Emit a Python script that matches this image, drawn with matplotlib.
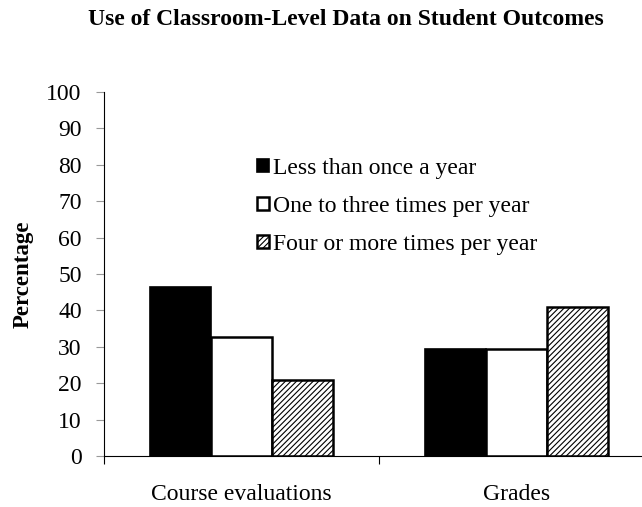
import matplotlib.pyplot as plt
import numpy as np

plt.rcParams['font.family'] = ['Liberation Serif', 'DejaVu Serif']
plt.rcParams['hatch.color'] = '#555555'
plt.rcParams['hatch.linewidth'] = 0.8

categories = ['Course evaluations', 'Grades']
series_names = ['Less than once a year', 'One to three times per year', 'Four or more times per year']
less_than_once = [46.5, 29.5]
one_to_three = [32.7, 29.4]
four_or_more = [20.9, 40.9]
y_ticks = list(range(0, 101, 10))

fig = plt.figure(figsize=(6.42, 5.07), dpi=100)
# right half of the axes runs off the figure, like the original
ax = fig.add_axes([0.1620, 0.1006, 0.857, 0.718])

x = np.arange(len(categories)) + 0.5
w = 0.222
ax.bar(x - w, less_than_once, w, color='black', edgecolor='black', linewidth=1.2, label=series_names[0])
ax.bar(x, one_to_three, w, color='white', edgecolor='black', linewidth=1.8, label=series_names[1])
ax.bar(x + w, four_or_more, w, color='white', edgecolor='black', linewidth=1.8, hatch='//////', label=series_names[2])

ax.set_xlim(0, 2)
ax.set_ylim(0, 100)
ax.set_yticks(y_ticks)
ax.tick_params(axis='y', labelsize=17, length=6, direction='out', color='#999999', pad=10)
ax.set_xticks([0, 1])
ax.set_xticklabels(['', ''])
ax.set_xticks(x, minor=True)
ax.set_xticklabels(categories, minor=True, fontsize=17)
ax.tick_params(axis='x', which='major', length=6, direction='out')
ax.tick_params(axis='x', which='minor', length=0, pad=20)

for s in ['top', 'right']:
    ax.spines[s].set_visible(False)

ax.set_ylabel('Percentage', fontsize=16.5, fontweight='bold')
ax.yaxis.set_label_coords(-0.128, 0.5)
fig.suptitle('Use of Classroom-Level Data on Student Outcomes', fontsize=17, fontweight='bold',
             x=0.538, y=0.982)

ax.legend(loc='upper left', bbox_to_anchor=(0.24, 0.877), frameon=False, fontsize=17,
          handlelength=0.5, handleheight=0.5, handletextpad=0.15, labelspacing=0.72)

fig.savefig('out.png', dpi=100)
